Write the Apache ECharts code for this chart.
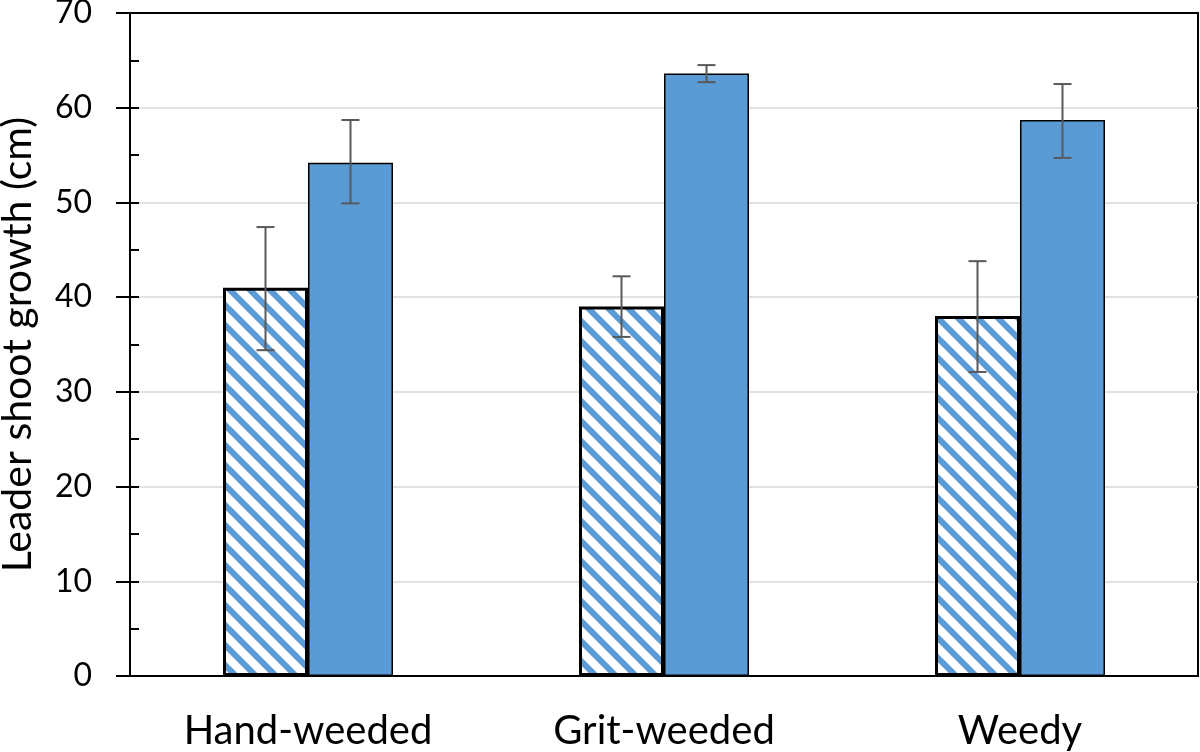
<!DOCTYPE html>
<html><head><meta charset="utf-8">
<script src="https://cdn.jsdelivr.net/npm/echarts@6/dist/echarts.min.js"></script>
<style>html,body{margin:0;padding:0;background:#fff}#c{width:1200px;height:752px}</style>
</head><body><div id="c"></div>
<script>
const categories = ['Hand-weeded', 'Grit-weeded', 'Weedy'];
const hatchedValues = [41.0, 39.0, 38.0];
const hatchedLow = [34.4, 35.8, 32.1];
const hatchedHigh = [47.4, 42.2, 43.8];
const solidValues = [54.2, 63.6, 58.7];
const solidLow = [49.9, 62.7, 54.7];
const solidHigh = [58.7, 64.5, 62.5];
const yTickValues = [0, 10, 20, 30, 40, 50, 60, 70];
const yAxisName = 'Leader shoot growth (cm)';

const BLUE = '#5B9BD5';
const FONT = 'Lato, "Open Sans", sans-serif';
const BAR_W = 85;

function makeHatch() {
  const s = 20;
  const c = document.createElement('canvas');
  c.width = s; c.height = s;
  const g = c.getContext('2d');
  g.fillStyle = '#fff'; g.fillRect(0, 0, s, s);
  g.strokeStyle = BLUE; g.lineWidth = 6;
  g.beginPath();
  for (const k of [-1, 0, 1]) {
    g.moveTo(k * s - 5, -5);
    g.lineTo(k * s + s + 5, s + 5);
  }
  g.stroke();
  return c;
}

function errSeries(name, lows, highs, dir) {
  return {
    type: 'custom', name: name, z: 10, silent: true,
    data: lows.map((l, i) => [i, l, highs[i]]),
    renderItem: function (params, api) {
      const i = api.value(0);
      const lo = api.coord([i, api.value(1)]);
      const hi = api.coord([i, api.value(2)]);
      const x = lo[0] + dir * BAR_W / 2;
      const cw = 9;
      const st = { stroke: '#595959', lineWidth: 2 };
      return {
        type: 'group', children: [
          { type: 'line', shape: { x1: x, y1: lo[1], x2: x, y2: hi[1] }, style: st },
          { type: 'line', shape: { x1: x - cw, y1: hi[1], x2: x + cw, y2: hi[1] }, style: st },
          { type: 'line', shape: { x1: x - cw, y1: lo[1], x2: x + cw, y2: lo[1] }, style: st }
        ]
      };
    }
  };
}

const yMin = yTickValues[0], yMax = yTickValues[yTickValues.length - 1];
const yStep = yTickValues[1] - yTickValues[0];

const chart = echarts.init(document.getElementById('c'), null, { renderer: 'canvas' });
chart.setOption({
  animation: false,
  backgroundColor: '#fff',
  grid: { left: 130, right: 2, top: 13, bottom: 76, containLabel: false, outerBoundsMode: 'none',
    show: true, borderColor: '#000', borderWidth: 2, backgroundColor: 'transparent' },
  xAxis: {
    type: 'category', data: categories,
    axisLine: { show: true, lineStyle: { color: '#000', width: 1.5 } },
    axisTick: { show: false },
    axisLabel: { color: '#000', fontSize: 40, fontFamily: FONT, margin: 35 },
    splitLine: { show: false }
  },
  yAxis: [{
    type: 'value', min: yMin, max: yMax, interval: yStep,
    name: yAxisName, nameLocation: 'middle', nameGap: 92,
    nameTextStyle: { color: '#000', fontSize: 41, fontFamily: FONT },
    axisLine: { show: true, lineStyle: { color: '#000', width: 2 } },
    axisTick: { show: true, inside: false, length: 14, lineStyle: { color: '#000', width: 2 } },
    axisLabel: { color: '#000', fontSize: 32, fontFamily: FONT, margin: 38 },
    splitLine: { show: true, showMinLine: false, showMaxLine: false, lineStyle: { color: '#d9d9d9', width: 1.5 } }
  }, {
    type: 'value', min: yMin, max: yMax, interval: yStep / 2, position: 'left',
    axisLine: { show: false },
    axisTick: { show: true, inside: true, length: 9, lineStyle: { color: '#000', width: 2 } },
    axisLabel: { show: false },
    splitLine: { show: false }
  }],
  series: [{
    type: 'bar', name: 'hatched', data: hatchedValues, barWidth: BAR_W, barGap: '0%',
    itemStyle: { color: { image: makeHatch(), repeat: 'repeat' }, borderColor: '#000', borderWidth: 3 }
  }, {
    type: 'bar', name: 'solid', data: solidValues, barWidth: BAR_W, barGap: '0%',
    itemStyle: { color: BLUE, borderColor: '#000', borderWidth: 1.5 }
  },
  errSeries('hatchedErr', hatchedLow, hatchedHigh, -1),
  errSeries('solidErr', solidLow, solidHigh, 1)
  ]
});
</script></body></html>
